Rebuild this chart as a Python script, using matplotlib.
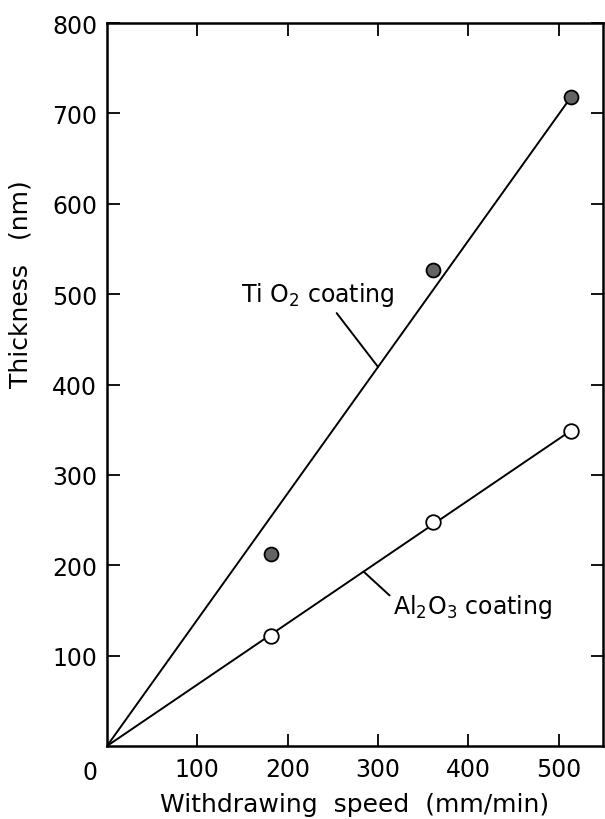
import numpy as np
import matplotlib
matplotlib.use('Agg')
import matplotlib.pyplot as plt

# withdrawing speed (mm/min) and film thickness (nm)
speed = [182, 361, 514]
tio2_thickness = [212, 527, 718]
al2o3_thickness = [122, 248, 348]

x_ticks = [100, 200, 300, 400, 500]
y_ticks = [100, 200, 300, 400, 500, 600, 700, 800]

plt.rcParams['font.family'] = ['DejaVu Sans']
plt.rcParams['mathtext.fontset'] = 'dejavusans'

fig = plt.figure(figsize=(6.05, 8.2), dpi=100)
ax = fig.add_axes([107 / 605, 1 - 747 / 820, 496 / 605, 723 / 820])

x = np.array(speed, dtype=float)

# straight lines through the origin, least squares
def origin_fit(xs, ys):
    ys = np.array(ys, dtype=float)
    return (xs * ys).sum() / (xs * xs).sum()

k_ti = origin_fit(x, tio2_thickness)
k_al = origin_fit(x, al2o3_thickness)

xs = np.array([0, x[-1]])
ax.plot(xs, k_ti * xs, color='black', lw=1.4, zorder=2)
ax.plot(xs, k_al * xs, color='black', lw=1.4, zorder=2)

ax.plot(x, tio2_thickness, 'o', ms=10, mfc='#646464', mec='black', mew=1.3, zorder=3)
ax.plot(x, al2o3_thickness, 'o', ms=10.5, mfc='white', mec='black', mew=1.3, zorder=3)

ax.set_xlim(0, 549)
ax.set_ylim(0, 800)

ax.set_xticks(x_ticks)
ax.set_xticklabels([str(v) for v in x_ticks])
ax.set_yticks(y_ticks)
ax.set_yticklabels([str(v) for v in y_ticks])
ax.tick_params(direction='in', length=9, width=1.3, labelsize=17,
               top=True, right=True, pad=8)
ax.tick_params(axis='y', pad=7)
for s in ax.spines.values():
    s.set_linewidth(1.8)

# shared origin label
ax.text(-0.035, -0.036, '0', transform=ax.transAxes, ha='center', va='center',
        fontsize=17, clip_on=False)

ax.set_xlabel('Withdrawing  speed  (mm/min)', fontsize=18, labelpad=8)
ax.set_ylabel('Thickness   (nm)', fontsize=18)
ax.yaxis.set_label_coords(-0.15, 0.64)

ax.annotate('Ti O$_2$ coating', xy=(300, k_ti * 300), xytext=(148, 500),
            fontsize=17, va='center', ha='left',
            arrowprops=dict(arrowstyle='-', lw=1.4, color='black',
                            relpos=(0.6, 0.0), shrinkA=2, shrinkB=0))
ax.annotate('Al$_2$O$_3$ coating', xy=(284, k_al * 284), xytext=(317, 155),
            fontsize=17, va='center', ha='left',
            arrowprops=dict(arrowstyle='-', lw=1.4, color='black',
                            relpos=(0.0, 0.75), shrinkA=1, shrinkB=0))

fig.savefig('out.png', dpi=100)
